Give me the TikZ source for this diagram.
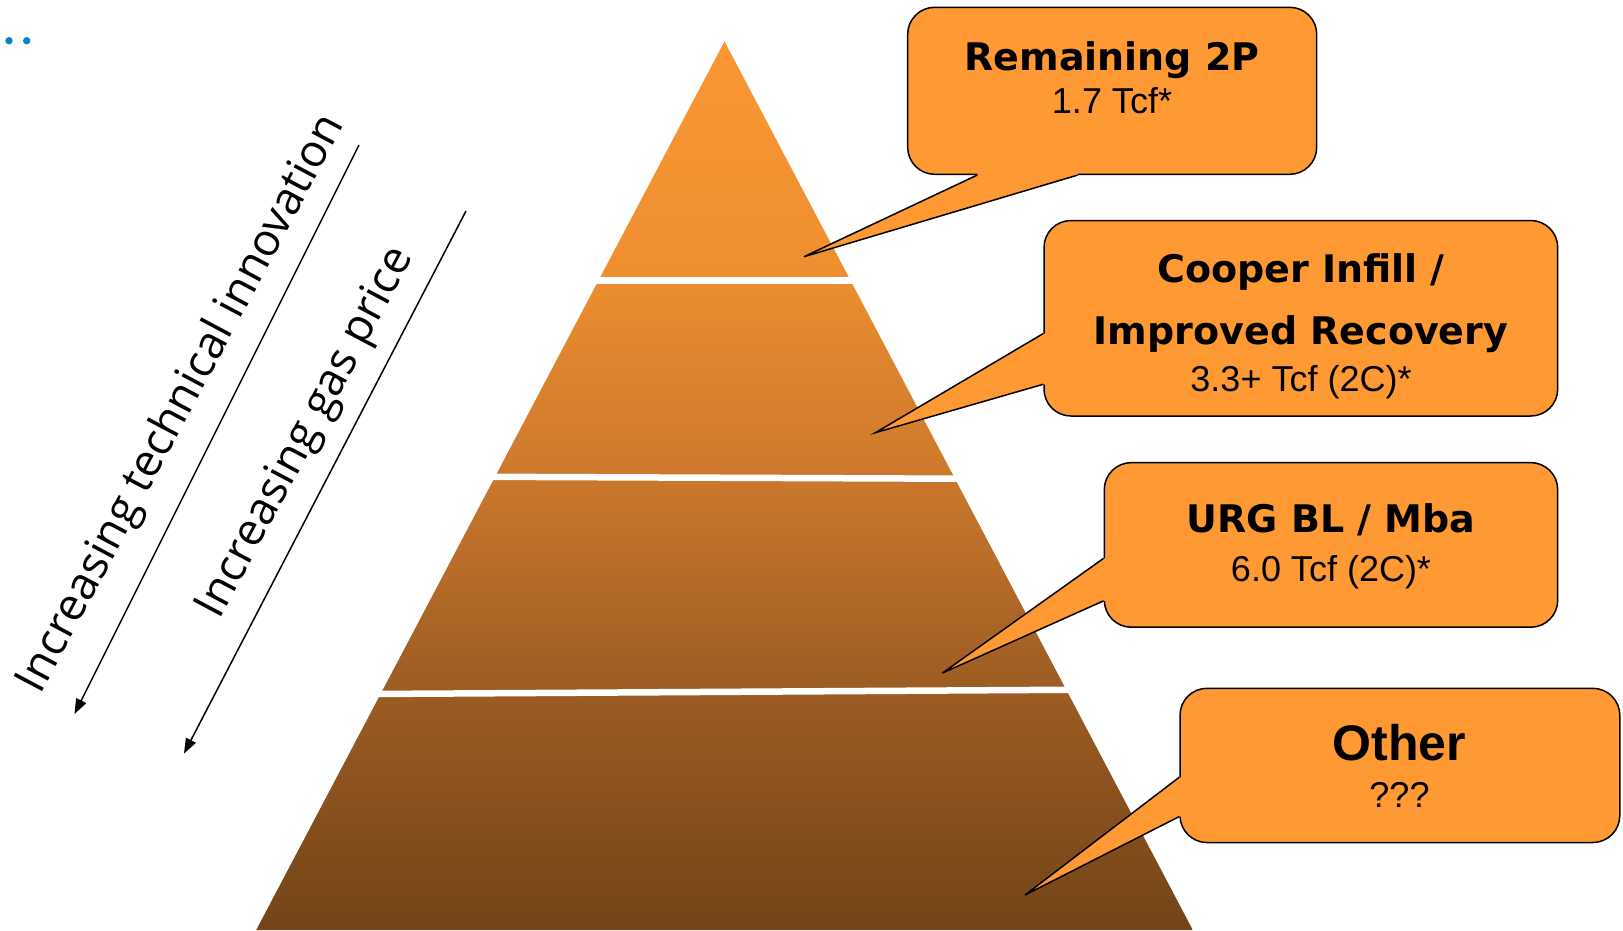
\documentclass[tikz,border=0pt]{standalone}
\usepackage{fontspec}
\usetikzlibrary{arrows.meta,calc}
\newfontfamily\titlefont{DejaVu Sans}
\newfontfamily\subfont{Liberation Sans}
\newfontfamily\sidefont{Open Sans}
\definecolor{callorange}{HTML}{FF9933}
\definecolor{pyrA}{HTML}{734418}
\definecolor{pyrB}{HTML}{9E5D23}
\definecolor{pyrC}{HTML}{CF7A2D}
\definecolor{pyrD}{HTML}{EF8F30}
\definecolor{pyrE}{HTML}{FA9733}
\definecolor{dotblue}{HTML}{0A80D0}
\pgfdeclareverticalshading{pyrshade}{100bp}{color(0bp)=(pyrA); color(25bp)=(pyrA); color(39bp)=(pyrB); color(51.5bp)=(pyrC); color(62.7bp)=(pyrD); color(75bp)=(pyrE); color(100bp)=(pyrE)}
\begin{document}
\begin{tikzpicture}[x=1pt,y=-1pt,
  box/.style={draw=black, line width=1.5pt, fill=callorange, rounded corners=27pt, inner sep=0pt},
  ttl/.style={font=\titlefont\bfseries\fontsize{38pt}{44pt}\selectfont, anchor=base, inner sep=0pt},
  bigttl/.style={font=\subfont\bfseries\fontsize{50pt}{56pt}\selectfont, anchor=base, inner sep=0pt},
  sub/.style={font=\subfont\fontsize{36pt}{42pt}\selectfont, anchor=base, inner sep=0pt},
  side/.style={font=\sidefont\fontsize{45pt}{52pt}\selectfont, rotate=62, inner sep=0pt},
  gapline/.style={white, line width=6.5pt},
  arr/.style={line width=1.5pt, -{Triangle[length=15pt,width=11pt]}},
  ptr/.style={fill=callorange},
  ptrline/.style={line width=1.5pt, line join=miter},
  dot/.style={circle, fill=dotblue, minimum size=7.4pt, inner sep=0pt}
]
\useasboundingbox (0,0) rectangle (1623,930);

% blue dots
\node[dot] (d1) at (9,40.7) {};
\node[dot] (d2) at (26.7,40.7) {};

% pyramid
\coordinate (apex) at (724.5,41.4);
\coordinate (bl) at (256.2,930);
\coordinate (br) at (1192.8,930);
\shade[shading=pyrshade] (apex) -- (br) -- (bl) -- cycle;
\coordinate (g1l) at (540,280.5); \coordinate (g1r) at (900,280.5);
\coordinate (g2l) at (440,476.6); \coordinate (g2r) at (980,478.8);
\coordinate (g3l) at (320,694.3); \coordinate (g3r) at (1110,689.5);
\draw[gapline] (g1l) -- (g1r);
\draw[gapline] (g2l) -- (g2r);
\draw[gapline] (g3l) -- (g3r);

% side arrows and labels
\coordinate (a1s) at (359,145); \coordinate (a1e) at (74.5,714);
\coordinate (a2s) at (466,211); \coordinate (a2e) at (184,753.5);
\draw[arr] (a1s) -- (a1e);
\draw[arr] (a2s) -- (a2e);
\node[side] (s1) at (182,404) {Increasing technical innovation};
\node[side] (s2) at (307,433) {Increasing gas price};

% callout boxes
\node[box, minimum width=409pt, minimum height=167pt] (b1) at (1112.2,90.8) {};
\node[box, minimum width=513.7pt, minimum height=195.5pt] (b2) at (1300.85,318.25) {};
\node[box, minimum width=453.4pt, minimum height=164.6pt] (b3) at (1331,544.9) {};
\node[box, minimum width=439.8pt, minimum height=154.2pt] (b4) at (1399.9,765.4) {};

% pointers
\coordinate (t1) at (804,256.7);
\coordinate (p1a) at ([xshift=70.3pt]b1.south west);
\coordinate (p1b) at ([xshift=170.8pt]b1.south west);
\fill[ptr] (t1) -- (p1a) -- ([yshift=3pt]p1a) -- ([yshift=3pt]p1b) -- (p1b) -- cycle;
\draw[ptrline] (p1a) -- (t1) -- (p1b);

\coordinate (t2) at (875.6,432.6);
\coordinate (p2a) at ([yshift=-113.8pt]b2.north west);
\coordinate (p2b) at ([yshift=-164.5pt]b2.north west);
\fill[ptr] (t2) -- (p2a) -- ([xshift=3pt]p2a) -- ([xshift=3pt]p2b) -- (p2b) -- cycle;
\draw[ptrline] (p2a) -- (t2) -- (p2b);

\coordinate (t3) at (942.5,673);
\coordinate (p3a) at ([yshift=-96.5pt]b3.north west);
\coordinate (p3b) at ([yshift=-139pt]b3.north west);
\fill[ptr] (t3) -- (p3a) -- ([xshift=3pt]p3a) -- ([xshift=3pt]p3b) -- (p3b) -- cycle;
\draw[ptrline] (p3a) -- (t3) -- (p3b);

\coordinate (t4) at (1025,895);
\coordinate (p4a) at ([yshift=-89.7pt]b4.north west);
\coordinate (p4b) at ([yshift=-129pt]b4.north west);
\fill[ptr] (t4) -- (p4a) -- ([xshift=3pt]p4a) -- ([xshift=3pt]p4b) -- (p4b) -- cycle;
\draw[ptrline] (p4a) -- (t4) -- (p4b);

% texts
\node[ttl] (b1t) at (1112,70) {Remaining 2P};
\node[sub] (b1s) at (1112,113.3) {1.7 Tcf*};
\node[ttl] (b2t1) at (1301,282.5) {Cooper Infill /};
\node[ttl] (b2t2) at (1301,344.7) {Improved Recovery};
\node[sub] (b2s) at (1301,391) {3.3+ Tcf (2C)*};
\node[ttl] (b3t) at (1331,532) {URG BL / Mba};
\node[sub] (b3s) at (1331,581.7) {6.0 Tcf (2C)*};
\node[bigttl] (b4t) at (1399.5,760.7) {Other};
\node[sub] (b4s) at (1399.5,807) {???};
\end{tikzpicture}
\end{document}
